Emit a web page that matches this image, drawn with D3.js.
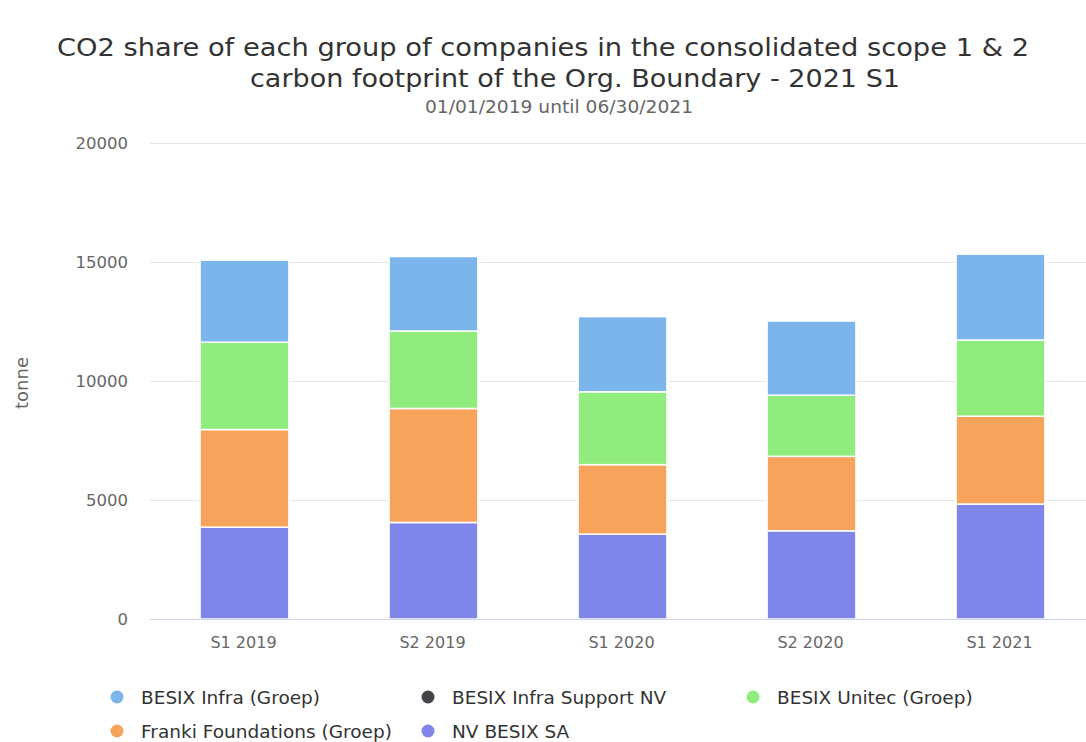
<!DOCTYPE html>
<html>
<head>
<meta charset="utf-8">
<script src="https://cdn.jsdelivr.net/npm/d3@7"></script>
<style>
  html, body { margin: 0; padding: 0; background: #ffffff; }
  svg { display: block; font-family: "DejaVu Sans", sans-serif; }
</style>
</head>
<body>
<svg id="chart" width="1086" height="742"></svg>
<script>
const categories = ["S1 2019", "S2 2019", "S1 2020", "S2 2020", "S1 2021"];
const seriesNames = ["BESIX Infra (Groep)", "BESIX Infra Support NV", "BESIX Unitec (Groep)", "Franki Foundations (Groep)", "NV BESIX SA"];
const besixInfra = [3450, 3130, 3160, 3115, 3610];
const besixInfraSupport = [0, 0, 0, 0, 0];
const besixUnitec = [3670, 3255, 3060, 2570, 3200];
const frankiFoundations = [4100, 4790, 2920, 3130, 3690];
const nvBesix = [3860, 4055, 3565, 3705, 4830];
const yTicks = [0, 5000, 10000, 15000, 20000];
const colors = ["#7cb5ec", "#434348", "#90ed7d", "#f7a35c", "#8085e9"];

const seriesValues = [besixInfra, besixInfraSupport, besixUnitec, frankiFoundations, nvBesix];

const svg = d3.select("#chart");
const W = 1086, H = 742;
const plot = { left: 150, right: 1095, top: 143, bottom: 619 };

// Title
const title = svg.append("text").attr("text-anchor", "middle").attr("fill", "#333333")
  .style("font-size", "25px");
title.append("tspan").attr("x", 543).attr("y", 56)
  .attr("textLength", 972).attr("lengthAdjust", "spacingAndGlyphs")
  .text("CO2 share of each group of companies in the consolidated scope 1 & 2");
title.append("tspan").attr("x", 575).attr("y", 87)
  .attr("textLength", 650).attr("lengthAdjust", "spacingAndGlyphs")
  .text("carbon footprint of the Org. Boundary - 2021 S1");

svg.append("text").attr("x", 559).attr("y", 113).attr("text-anchor", "middle")
  .attr("fill", "#666666").style("font-size", "17px")
  .attr("textLength", 268).attr("lengthAdjust", "spacingAndGlyphs")
  .text("01/01/2019 until 06/30/2021");

const x = d3.scaleBand().domain(categories).range([plot.left, plot.right]).padding(0);
const y = d3.scaleLinear().domain([0, 20000]).range([plot.bottom, plot.top]);

// gridlines
svg.append("g").selectAll("line").data(yTicks).join("line")
  .attr("x1", plot.left).attr("x2", W)
  .attr("y1", d => y(d) + 0.5).attr("y2", d => y(d) + 0.5)
  .attr("stroke", "#e6e6e6").attr("stroke-width", 1);

// y labels
svg.append("g").selectAll("text").data(yTicks).join("text")
  .attr("x", 128).attr("y", d => y(d) + 5.5)
  .attr("text-anchor", "end").attr("fill", "#666666").style("font-size", "16.5px")
  .text(d => d);

// y title
svg.append("text").attr("transform", `translate(28,${(plot.top + plot.bottom) / 2 + 2}) rotate(-90)`)
  .attr("text-anchor", "middle").attr("fill", "#666666").style("font-size", "18px").text("tonne");

// stacked bars: first series on top (stack reversed)
const rows = categories.map((c, i) => {
  const o = { cat: c };
  seriesNames.forEach((s, j) => o[s] = seriesValues[j][i]);
  return o;
});
const stackOrder = seriesNames.slice().reverse();
const stacked = d3.stack().keys(stackOrder)(rows);
const barW = x.bandwidth() * 0.47;

svg.append("g").selectAll("g").data(stacked).join("g")
  .attr("fill", d => colors[seriesNames.indexOf(d.key)])
  .selectAll("rect").data(d => d.filter(p => p[1] - p[0] > 0)).join("rect")
  .attr("x", d => x(d.data.cat) + (x.bandwidth() - barW) / 2)
  .attr("width", barW)
  .attr("y", d => y(d[1]))
  .attr("height", d => y(d[0]) - y(d[1]))
  .attr("stroke", "#ffffff").attr("stroke-width", 1.5);

// x axis line
svg.append("line").attr("x1", plot.left).attr("x2", W)
  .attr("y1", plot.bottom + 0.5).attr("y2", plot.bottom + 0.5)
  .attr("stroke", "#ccd6eb").attr("stroke-width", 1);

// x labels
svg.append("g").selectAll("text").data(categories).join("text")
  .attr("x", d => x(d) + x.bandwidth() / 2 - 1).attr("y", 648)
  .attr("text-anchor", "middle").attr("fill", "#666666").style("font-size", "16px")
  .text(d => d);

// legend
const legendPos = [[117, 697], [428, 697], [753, 697], [117, 731], [428, 731]];
const lg = svg.append("g").selectAll("g").data(seriesNames).join("g")
  .attr("transform", (d, i) => `translate(${legendPos[i][0]},${legendPos[i][1]})`);
lg.append("circle").attr("r", 6.5).attr("fill", (d, i) => colors[i]);
lg.append("text").attr("x", 24).attr("y", 6.5).attr("fill", "#333333")
  .style("font-size", "18.5px").text(d => d);
</script>
</body>
</html>
